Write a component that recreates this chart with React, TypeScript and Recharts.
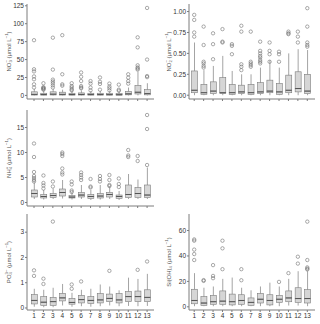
import { Bar, ComposedChart, Scatter, XAxis, YAxis } from "recharts"

const sites = ["1", "2", "3", "4", "5", "6", "7", "8", "9", "10", "11", "12", "13"]

// (a) NO3-
const no3Lo = [0, 0, 0, 0, 0, 0, 0, 0, 0, 0, 0, 0, 0]
const no3Q1 = [0.5, 0.4, 0.6, 0.5, 0.4, 0.5, 0.4, 0.4, 0.4, 0.3, 0.8, 2, 0.8]
const no3Med = [1.5, 1.2, 1.8, 1.5, 1.2, 1.4, 1.2, 1.2, 1.1, 1, 2.2, 4.5, 2.5]
const no3Q3 = [5, 3, 5, 4.5, 3, 3.5, 3, 3, 3, 2.5, 5.5, 14, 8]
const no3Hi = [9, 6, 9, 8, 6, 7, 6, 6, 6, 5, 11, 33, 17]
const no3Out = [
  [77, 36.5, 33.5, 26.5, 22.5, 15.5, 11],
  [17, 11.5, 10.5, 9.8, 9, 8],
  [80.5, 36, 22, 19.5, 17, 14, 11],
  [84, 29.5, 15.5, 13.5],
  [17, 13, 11, 8.5, 7],
  [32, 26, 20, 13, 11, 10],
  [20, 16.5, 11, 7],
  [25, 19, 16, 8],
  [16.5, 12.5, 10, 7],
  [15, 8, 6.5],
  [29.5, 24.8, 20, 16.4],
  [81, 67, 42, 39, 37.5, 36],
  [122, 50, 27, 25.5],
]

// (b) NO2-
const no2Lo = [0, 0, 0, 0, 0, 0, 0, 0, 0, 0, 0, 0, 0]
const no2Q1 = [0.03, 0.01, 0.02, 0.02, 0.01, 0.02, 0.01, 0.02, 0.03, 0.01, 0.03, 0.04, 0.02]
const no2Med = [0.06, 0.03, 0.05, 0.03, 0.03, 0.04, 0.03, 0.04, 0.05, 0.04, 0.06, 0.08, 0.05]
const no2Q3 = [0.29, 0.13, 0.16, 0.21, 0.13, 0.12, 0.13, 0.15, 0.18, 0.14, 0.24, 0.28, 0.25]
const no2Hi = [0.63, 0.3, 0.35, 0.47, 0.29, 0.25, 0.25, 0.33, 0.42, 0.33, 0.5, 0.55, 0.54]
const no2Out = [
  [0.96, 0.9, 0.75, 0.7],
  [0.82, 0.6, 0.4, 0.38, 0.35, 0.33],
  [0.74, 0.61, 0.43],
  [0.79, 0.64, 0.63],
  [0.61, 0.59, 0.49],
  [0.83, 0.76, 0.37, 0.34, 0.3],
  [0.76, 0.4, 0.38, 0.36, 0.34],
  [0.64, 0.53, 0.5, 0.47, 0.45, 0.42, 0.4, 0.38],
  [0.63, 0.53, 0.49, 0.4],
  [0.52, 0.49, 0.4],
  [0.76, 0.74, 0.73],
  [0.76, 0.7, 0.63],
  [1.04, 0.82, 0.63, 0.6, 0.58],
]

// (c) NH4+
const nh4Lo = [0.7, 0.6, 0.7, 0.8, 0.6, 0.7, 0.5, 0.6, 0.7, 0.5, 0.7, 0.7, 0.7]
const nh4Q1 = [1.1, 0.9, 1.0, 1.3, 0.9, 1.1, 0.8, 0.9, 1.1, 0.8, 1.0, 1.0, 1.0]
const nh4Med = [1.8, 1.2, 1.4, 2.0, 1.1, 1.5, 1.2, 1.3, 1.6, 1.2, 1.6, 1.8, 1.5]
const nh4Q3 = [2.5, 1.6, 1.8, 2.7, 1.4, 2.0, 1.6, 1.8, 2.0, 1.5, 3.5, 3.0, 3.5]
const nh4Hi = [4.0, 2.5, 2.8, 4.5, 2.0, 3.5, 2.5, 3.5, 3.2, 2.3, 5.7, 4.6, 7.0]
const nh4Out = [
  [11.8, 9.1, 6.1, 5.3, 4.9, 4.5, 4.2],
  [5.4, 3.9, 3.4, 2.8],
  [4.2, 3.2],
  [10, 9.7, 9.3, 6.8, 6, 5.6],
  [4.2, 3.6, 2.4, 2.1],
  [6, 5.5, 5, 4.5],
  [4.7, 3.2, 3],
  [5.3, 4.7, 4.2],
  [5.5, 4.5, 3.5, 3.3],
  [4.8, 3.7, 3.1],
  [10.5, 9.4, 9.1],
  [9.3, 8.3],
  [17.5, 14.7, 7.5],
]

// (d) PO4 3-
const po4Lo = [0.05, 0.03, 0.03, 0.1, 0.05, 0.07, 0.05, 0.07, 0.1, 0.07, 0.08, 0.07, 0.08]
const po4Q1 = [0.16, 0.1, 0.1, 0.28, 0.15, 0.2, 0.18, 0.2, 0.25, 0.2, 0.25, 0.25, 0.25]
const po4Med = [0.3, 0.23, 0.25, 0.4, 0.22, 0.33, 0.3, 0.32, 0.38, 0.32, 0.45, 0.45, 0.42]
const po4Q3 = [0.53, 0.45, 0.42, 0.58, 0.38, 0.5, 0.45, 0.57, 0.55, 0.57, 0.65, 0.67, 0.72]
const po4Hi = [0.76, 0.72, 0.8, 0.95, 0.6, 0.72, 0.76, 0.93, 0.85, 0.7, 1.2, 1.15, 1.35]
const po4Out = [
  [1.49, 1.27],
  [1.16, 0.95],
  [3.42],
  [],
  [0.93, 0.76],
  [1.05],
  [],
  [],
  [1.47],
  [],
  [],
  [1.51],
  [1.84],
]

// (e) Si(OH)4
const siLo = [0.5, 0.5, 0.5, 0.5, 0.5, 0.5, 0.5, 0.5, 0.5, 0.5, 1, 1, 0.5]
const siQ1 = [2.4, 1, 2, 2, 1.5, 2, 1, 3, 1.5, 3.5, 4, 3.5, 3]
const siMed = [5, 3, 4, 4.5, 4, 5, 3.5, 6, 5, 6, 7, 6.5, 6.5]
const siQ3 = [13.8, 8, 9, 12.5, 10, 9.5, 7, 10.5, 9.5, 9, 12.5, 15, 13.5]
const siHi = [26.5, 15, 16, 22, 23, 15, 13, 16, 19, 16, 22, 28, 28]
const siOut = [
  [53, 52, 45, 41.5, 36.8],
  [21, 20.4],
  [32.8, 24.3, 22.5],
  [52, 46, 29.6],
  [],
  [29.6, 20.9],
  [],
  [],
  [],
  [19.6],
  [26.5],
  [39.4, 34],
  [67, 36.8, 31, 30, 29.4],
]

const LINE = "#7c7c7c"
const BOX = "#d6d6d6"
const MED = "#4d4d4d"
const FONT = "'Liberation Sans', Arial, sans-serif"

function buildRows(lo: number[], q1: number[], med: number[], q3: number[], hi: number[], out: number[][]) {
  return sites.map((s, i) => {
    const row: any = {
      site: s,
      base: lo[i],
      wl: q1[i] - lo[i],
      bl: med[i] - q1[i],
      bu: q3[i] - med[i],
      wu: hi[i] - q3[i],
    }
    out[i].forEach((v, k) => {
      row["o" + k] = v
    })
    return row
  })
}

const Whisker = (props: any) => {
  const { x, y, width, height } = props
  const cx = x + width / 2
  return <line x1={cx} x2={cx} y1={y} y2={y + height} stroke={LINE} strokeWidth={0.7} />
}

const BoxLow = (props: any) => {
  const { x, y, width, height } = props
  return <rect x={x} y={y} width={width} height={height} fill={BOX} stroke={LINE} strokeWidth={0.6} />
}

const BoxHigh = (props: any) => {
  const { x, y, width, height } = props
  return (
    <g>
      <rect x={x} y={y} width={width} height={height} fill={BOX} stroke={LINE} strokeWidth={0.6} />
      <line x1={x} x2={x + width} y1={y + height} y2={y + height} stroke={MED} strokeWidth={0.9} />
    </g>
  )
}

const OutDot = (props: any) => {
  const { cx, cy } = props
  if (!Number.isFinite(cx) || !Number.isFinite(cy)) return <g />
  return <circle cx={cx} cy={cy} r={1.7} fill="none" stroke="#707070" strokeWidth={0.6} />
}

// title parts: [text, shift] shift 1 = subscript, -1 = superscript, dx for stacking
type Part = [string, number, number?]

function titleContent(parts: Part[]) {
  return (p: any) => {
    const vb = p.viewBox
    const x = vb.x + 8.5
    const y = vb.y + vb.height / 2
    let cur = 0
    return (
      <text
        x={x}
        y={y}
        transform={`rotate(-90, ${x}, ${y})`}
        textAnchor="middle"
        dominantBaseline="central"
        fontSize={6}
        fill="#555"
        fontFamily={FONT}
      >
        {parts.map(([t, s, dx], i) => {
          const target = s === 1 ? 1.5 : s === -1 ? -2.3 : 0
          const dy = target - cur
          cur = target
          return (
            <tspan key={i} dy={dy} dx={dx ?? 0} fontSize={s === 0 ? 6 : 4.3}>
              {t}
            </tspan>
          )
        })}
      </text>
    )
  }
}

function tagContent(tag: string) {
  return (p: any) => {
    const vb = p.viewBox
    return (
      <text x={vb.x + 1.5} y={vb.y + 7} fontSize={6} fill="#444" fontFamily={FONT}>
        {tag}
      </text>
    )
  }
}

type PanelProps = {
  col: number
  L: number
  R: number
  T: number
  B: number
  rows: any[]
  nOut: number
  domain: [number, number]
  ticks: number[]
  fmt?: (v: number) => string
  title: Part[]
  tag: string
  showX: boolean
  padL: number
  padR: number
}

function Panel({ col, L, R, T, B, rows, nOut, domain, ticks, fmt, title, tag, showX, padL, padR }: PanelProps) {
  const mt = 2
  const xh = showX ? 14 : 5
  const h = B - T + mt + xh
  const tickStyle = { fontSize: 6.5, fill: "#333", fontFamily: FONT }
  return (
    <div style={{ position: "absolute", left: col, top: T - mt }}>
      <ComposedChart
        width={160}
        height={h}
        data={rows}
        margin={{ top: mt, right: col + 160 - R, bottom: 0, left: 0 }}
      >
        <XAxis
          dataKey="site"
          type="category"
          allowDuplicatedCategory={false}
          padding={{ left: padL, right: padR }}
          height={xh}
          tickSize={2}
          tickMargin={1.5}
          interval={0}
          tick={tickStyle}
          tickFormatter={showX ? undefined : () => ""}
          stroke={LINE}
        />
        <XAxis
          xAxisId="top"
          orientation="top"
          dataKey="site"
          height={0}
          tick={false}
          tickLine={false}
          stroke={LINE}
          label={{ content: tagContent(tag) }}
        />
        <YAxis
          type="number"
          domain={domain}
          ticks={ticks}
          allowDataOverflow
          interval={0}
          width={L - col}
          tickSize={2}
          tickMargin={1}
          tick={tickStyle}
          tickFormatter={fmt}
          stroke={LINE}
          label={{ content: titleContent(title) }}
        />
        <YAxis
          yAxisId="right"
          orientation="right"
          width={0}
          domain={[0, 1]}
          tick={false}
          tickLine={false}
          stroke={LINE}
        />
        <Bar dataKey="base" stackId="b" barSize={6} fill="none" isAnimationActive={false} />
        <Bar dataKey="wl" stackId="b" barSize={6} shape={Whisker} isAnimationActive={false} />
        <Bar dataKey="bl" stackId="b" barSize={6} shape={BoxLow} isAnimationActive={false} />
        <Bar dataKey="bu" stackId="b" barSize={6} shape={BoxHigh} isAnimationActive={false} />
        <Bar dataKey="wu" stackId="b" barSize={6} shape={Whisker} isAnimationActive={false} />
        {Array.from({ length: nOut }, (_, k) => (
          <Scatter key={k} dataKey={"o" + k} shape={OutDot} isAnimationActive={false} />
        ))}
      </ComposedChart>
    </div>
  )
}

const maxLen = (o: number[][]) => Math.max(...o.map((a) => a.length))
const umol: Part[] = [[" (μmol L", 0], ["−1", -1], [")", 0]]

export default function App() {
  return (
    <div style={{ position: "absolute", left: 0, top: 0, width: 320, height: 324, background: "#fff" }}>
      <Panel
        col={0} L={27} R={154} T={4} B={99} padL={2.3} padR={2.2}
        rows={buildRows(no3Lo, no3Q1, no3Med, no3Q3, no3Hi, no3Out)}
        nOut={maxLen(no3Out)}
        domain={[-5, 127.5]}
        ticks={[0, 25, 50, 75, 100, 125]}
        title={[["NO", 0], ["3", 1], ["−", -1, -2.4], ...umol]}
        tag="(a)"
        showX={false}
      />
      <Panel
        col={160} L={189} R={315} T={4} B={99} padL={0.5} padR={3}
        rows={buildRows(no2Lo, no2Q1, no2Med, no2Q3, no2Hi, no2Out)}
        nOut={maxLen(no2Out)}
        domain={[-0.045, 1.09]}
        ticks={[0, 0.25, 0.5, 0.75, 1]}
        fmt={(v) => v.toFixed(2)}
        title={[["NO", 0], ["2", 1], ["−", -1, -2.4], ...umol]}
        tag="(b)"
        showX={false}
      />
      <Panel
        col={0} L={27} R={154} T={110} B={206} padL={2.3} padR={2.2}
        rows={buildRows(nh4Lo, nh4Q1, nh4Med, nh4Q3, nh4Hi, nh4Out)}
        nOut={maxLen(nh4Out)}
        domain={[-0.7, 18.5]}
        ticks={[0, 5, 10, 15]}
        title={[["NH", 0], ["4", 1], ["+", -1, -2.4], ...umol]}
        tag="(c)"
        showX={false}
      />
      <Panel
        col={0} L={27} R={154} T={214} B={310} padL={2.3} padR={2.2}
        rows={buildRows(po4Lo, po4Q1, po4Med, po4Q3, po4Hi, po4Out)}
        nOut={maxLen(po4Out)}
        domain={[-0.08, 3.72]}
        ticks={[0, 1, 2, 3]}
        title={[["PO", 0], ["4", 1], ["3−", -1, -2.4], ...umol]}
        tag="(d)"
        showX={true}
      />
      <Panel
        col={160} L={189} R={315} T={214} B={310} padL={0.5} padR={3}
        rows={buildRows(siLo, siQ1, siMed, siQ3, siHi, siOut)}
        nOut={maxLen(siOut)}
        domain={[-2.5, 73]}
        ticks={[0, 20, 40, 60]}
        title={[["Si(OH)", 0], ["4", 1], ...umol]}
        tag="(e)"
        showX={true}
      />
    </div>
  )
}
